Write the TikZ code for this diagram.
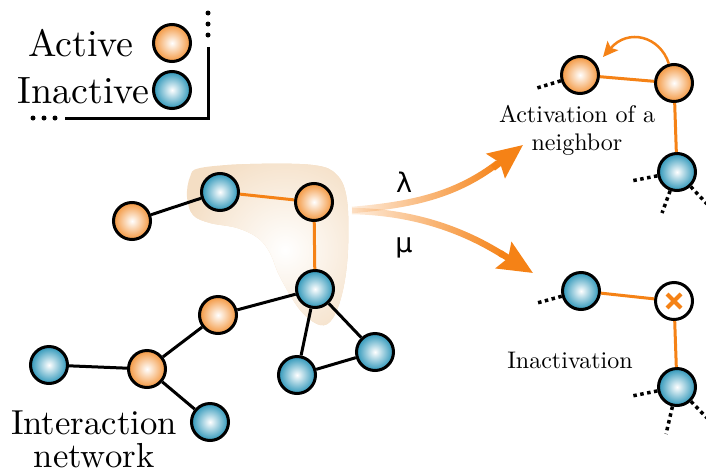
\documentclass[tikz,border=0pt]{standalone}
\usepackage{fontspec}
\setmainfont{lmroman10-regular}[Extension=.otf]
\newfontfamily\greekfont{DejaVu Sans}
\usetikzlibrary{arrows.meta,fadings}
\definecolor{orball}{RGB}{243,150,62}
\definecolor{blball}{RGB}{45,150,185}
\definecolor{edgeor}{RGB}{245,130,22}
\definecolor{blobtan}{RGB}{244,222,196}
\tikzfading[name=fadein, left color=transparent!88, right color=transparent!0]
\tikzset{
  ball/.style={circle, draw=black, line width=3pt, minimum size=37pt, inner sep=0pt},
  act/.style={ball, inner color=white, outer color=orball},
  inact/.style={ball, inner color=white, outer color=blball},
  gone/.style={ball, fill=white},
  blk/.style={draw=black, line width=3pt},
  ore/.style={draw=edgeor, line width=3pt},
  dotline/.style={draw=black, line width=3.5pt, dash pattern=on 3.5pt off 3.5pt},
  legdots/.style={draw=black, line width=5pt, line cap=round, dash pattern=on 0pt off 11pt},
  bigtxt/.style={inner sep=0pt, font=\fontsize{38}{40}\selectfont},
  midtxt/.style={inner sep=0pt, font=\fontsize{34.7}{36}\selectfont},
  smalltxt/.style={inner sep=0pt, font=\fontsize{24}{26}\selectfont},
  greektxt/.style={inner sep=0pt, font=\greekfont\fontsize{27}{29}\selectfont},
  bigarrow/.style={draw=edgeor, line width=6.5pt},
  bighead/.style={-{Stealth[length=34pt, width=30pt, inset=5pt]}},
}
\begin{document}
\begin{tikzpicture}[x=1pt, y=-1pt]
\useasboundingbox (0,0) rectangle (706,474);

% highlighted blob
\def\blobpath{plot[smooth cycle, tension=0.6] coordinates {
  (200,168) (250,164) (313,165) (337,175) (347,200) (348,250) (343,290) (333,318)
  (320,325) (300,310) (280,277) (270,253) (258,238) (237,228) (210,223) (193,215) (187,197) (190,177)}}
\fill[blobtan] \blobpath;
\begin{scope}
  \clip \blobpath;
  \shade[inner color=white, outer color=blobtan] (285,250) circle (105);
\end{scope}

% legend
\node[bigtxt, anchor=base east] (tact) at (134,56) {Active};
\node[bigtxt, anchor=base east] (tinact) at (150,103) {Inactive};
\node[act] (lact) at (172,43) {};
\node[inact] (linact) at (172,90) {};
\coordinate (lvtop) at (208,47);
\coordinate (lcorner) at (208,118);
\coordinate (lhend) at (65,118);
\draw[blk] (lvtop) -- (lcorner) -- (lhend);
\coordinate (vd1) at (208,13);
\coordinate (vd3) at (208,36);
\coordinate (hd1) at (33,118);
\coordinate (hd3) at (56,118);
\draw[legdots] (vd1) -- (vd3);
\draw[legdots] (hd1) -- (hd3);

% main network
\node[act]   (nA) at (132,221) {};
\node[inact] (nB) at (220,192) {};
\node[act]   (nC) at (314,202) {};
\node[inact] (nD) at (315,289) {};
\node[act]   (nE) at (218,315) {};
\node[act]   (nF) at (147,369) {};
\node[inact] (nG) at (49,365) {};
\node[inact] (nH) at (210,422) {};
\node[inact] (nI) at (297,375) {};
\node[inact] (nJ) at (375,352) {};

\draw[blk] (nA) -- (nB);
\draw[ore] (nB) -- (nC);
\draw[ore] (nC) -- (nD);
\draw[blk] (nD) -- (nE);
\draw[blk] (nE) -- (nF);
\draw[blk] (nF) -- (nG);
\draw[blk] (nF) -- (nH);
\draw[blk] (nD) -- (nI);
\draw[blk] (nD) -- (nJ);
\draw[blk] (nI) -- (nJ);

\node[midtxt, anchor=base] (tint) at (94,434) {Interaction};
\node[midtxt, anchor=base] (tnet) at (94,467) {network};

% rate arrows
\coordinate (fs1) at (352,210);
\coordinate (fe1) at (498,163);
\coordinate (hs1) at (493,168);
\coordinate (tip1) at (523,145);
\coordinate (fs2) at (352,211);
\coordinate (fe2) at (503,255);
\coordinate (hs2) at (500,253);
\coordinate (tip2) at (533,273);
\draw[bigarrow, path fading=fadein] (fs1) .. controls (410,205) and (455,196) .. (fe1);
\draw[bigarrow, path fading=fadein] (fs2) .. controls (410,212) and (460,228) .. (fe2);
\draw[bigarrow, bighead] (hs1) -- (tip1);
\draw[bigarrow, bighead] (hs2) -- (tip2);
\node[greektxt, anchor=base] (lam) at (404,192) {λ};
\node[greektxt, anchor=base] (mu) at (404,252) {μ};

% activation of a neighbor
\node[act]   (r1) at (580,75) {};
\node[act]   (r2) at (674,83) {};
\node[inact] (r3) at (677,172) {};
\draw[ore] (r1) -- (r2);
\draw[ore] (r2) -- (r3);
\coordinate (r1d) at (537,88);
\coordinate (r3d1) at (631,181);
\coordinate (r3d2) at (662,213);
\coordinate (r3d3) at (707,204);
\draw[dotline] (r1) -- (r1d);
\draw[dotline] (r3) -- (r3d1);
\draw[dotline] (r3) -- (r3d2);
\draw[dotline] (r3) -- (r3d3);
\coordinate (cend) at (603,57);
\draw[edgeor, line width=2.5pt, -{Stealth[length=15pt, width=14pt, inset=3pt]}] (r2.105) .. controls (660,36) and (628,28) .. (cend);
\node[smalltxt, anchor=base] (tact1) at (577,122) {Activation of a};
\node[smalltxt, anchor=base] (tact2) at (577,150) {neighbor};

% inactivation
\node[inact] (s1) at (581,291) {};
\node[gone]  (s2) at (674,301) {};
\node[inact] (s3) at (677,387) {};
\draw[ore] (s1) -- (s2);
\draw[ore] (s2) -- (s3);
\draw[edgeor, line width=4pt] ([shift={(-7,-7)}]s2.center) -- ([shift={(7,7)}]s2.center);
\draw[edgeor, line width=4pt] ([shift={(-7,7)}]s2.center) -- ([shift={(7,-7)}]s2.center);
\coordinate (s1d) at (537,303);
\coordinate (s3d1) at (632,396);
\coordinate (s3d2) at (666,434);
\coordinate (s3d3) at (707,418);
\draw[dotline] (s1) -- (s1d);
\draw[dotline] (s3) -- (s3d1);
\draw[dotline] (s3) -- (s3d2);
\draw[dotline] (s3) -- (s3d3);
\node[smalltxt, anchor=base] (tinac) at (570,368) {Inactivation};
\end{tikzpicture}
\end{document}
